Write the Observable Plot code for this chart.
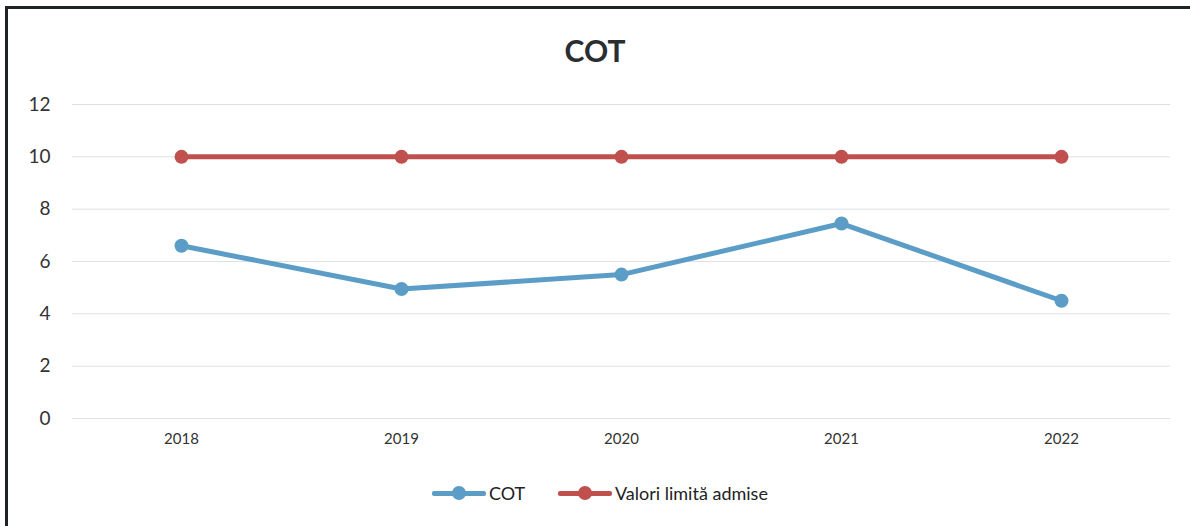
<!DOCTYPE html>
<html>
<head>
<meta charset="utf-8">
<script src="https://cdn.jsdelivr.net/npm/d3@7"></script>
<script src="https://cdn.jsdelivr.net/npm/@observablehq/plot@0.6"></script>
<style>
  html, body { margin: 0; padding: 0; background: #fff; }
  #wrap { position: relative; width: 1190px; height: 526px; overflow: hidden; font-family: Lato, "Open Sans", sans-serif; }
  #frame { position: absolute; left: 5px; top: 6px; width: 1200px; height: 540px; border-left: 3px solid #1e2326; border-top: 3px solid #1e2326; }
  #title { position: absolute; left: 0; width: 1190px; top: 33px; line-height: 34px; text-align: center; font-weight: 700; font-size: 30px; color: #2a2e30; }
  #chart { position: absolute; left: 0; top: 80px; }
  #legend { position: absolute; top: 480px; left: 0; width: 1190px; height: 26px; }
  .item { position: absolute; top: 0; height: 26px; display: flex; align-items: center; font-size: 18px; color: #222; }
  .sw { position: relative; width: 54px; height: 26px; margin-right: 3px; }
  .sw .ln { position: absolute; left: 0; right: 0; top: 10.5px; height: 5px; border-radius: 2px; }
  .sw .dt { position: absolute; left: 20px; top: 6px; width: 14px; height: 14px; border-radius: 50%; }
</style>
</head>
<body>
<div id="wrap">
  <div id="frame"></div>
  <div id="title">COT</div>
  <div id="chart"></div>
  <div id="legend"></div>
</div>
<script>
const years = ["2018", "2019", "2020", "2021", "2022"];
const cotValues = [6.6, 4.95, 5.5, 7.45, 4.5];
const limitValues = [10, 10, 10, 10, 10];
const yTicks = [0, 2, 4, 6, 8, 10, 12];
const seriesNames = ["COT", "Valori limită admise"];
const seriesColors = ["#5b9dc6", "#c0504d"];

const rows = [];
years.forEach((y, i) => {
  rows.push({year: y, value: cotValues[i], series: seriesNames[0]});
  rows.push({year: y, value: limitValues[i], series: seriesNames[1]});
});

const plot = Plot.plot({
  width: 1190,
  height: 390,
  marginLeft: 72,
  marginRight: 20,
  marginTop: 24,
  marginBottom: 52,
  style: { fontFamily: "Lato, 'Open Sans', sans-serif", background: "transparent", overflow: "visible" },
  x: { type: "point", domain: years, padding: 0.49, label: null },
  y: { domain: [0, 12], label: null },
  color: { domain: seriesNames, range: seriesColors },
  marks: [
    Plot.ruleY(yTicks, { stroke: "#dde1e6", strokeWidth: 1 }),
    Plot.axisY({ ticks: yTicks, tickSize: 0, tickPadding: 22, fontSize: 19, fill: "#333", label: null }),
    Plot.axisX({ tickSize: 0, tickPadding: 15, fontSize: 15, fill: "#333", label: null }),
    Plot.line(rows, { x: "year", y: "value", z: "series", stroke: "series", strokeWidth: 5, strokeLinecap: "round", strokeLinejoin: "round" }),
    Plot.dot(rows, { x: "year", y: "value", fill: "series", r: 7 })
  ]
});
document.getElementById("chart").appendChild(plot);

const legend = document.getElementById("legend");
const positions = [432, 558];
seriesNames.forEach((name, i) => {
  const item = document.createElement("div");
  item.className = "item";
  item.style.left = positions[i] + "px";
  item.innerHTML = `<div class="sw"><div class="ln" style="background:${seriesColors[i]}"></div><div class="dt" style="background:${seriesColors[i]}"></div></div><span>${name}</span>`;
  legend.appendChild(item);
});
</script>
</body>
</html>
